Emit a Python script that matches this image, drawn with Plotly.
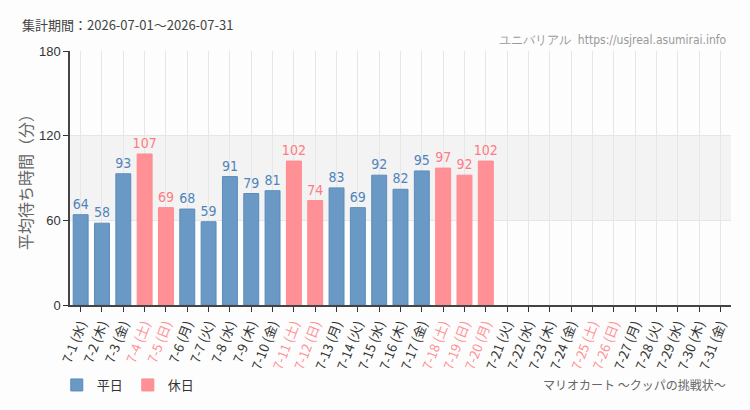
import plotly.graph_objects as go

dates = [f"7-{d}" for d in range(1, 32)]
weekdays = ["水","木","金","土","日","月","火","水","木","金","土","日","月","火","水","木","金","土","日","月","火","水","木","金","土","日","月","火","水","木","金"]
holiday = [False,False,False,True,True,False,False,False,False,False,True,True,False,False,False,False,False,True,True,True,
           False,False,False,False,True,True,False,False,False,False,False]
values = [64,58,93,107,69,68,59,91,79,81,102,74,83,69,92,82,95,97,92,102,
          None,None,None,None,None,None,None,None,None,None,None]

BLUE = "#6a99c6"
PINK = "#ff9196"
TXT = "#333333"
FONT = "Noto Sans CJK JP, Liberation Sans, sans-serif"
NARROW = "Liberation Sans Narrow, DejaVu Sans Condensed, Roboto, sans-serif"

idx = list(range(len(dates)))
wx = [i for i in idx if values[i] is not None and not holiday[i]]
hx = [i for i in idx if values[i] is not None and holiday[i]]

fig = go.Figure()
fig.add_trace(go.Bar(
    x=wx, y=[values[i] for i in wx], name="平日", width=0.7,
    marker=dict(color=BLUE, line=dict(color="#5b8cbc", width=1)),
    text=[str(values[i]) for i in wx], textposition="outside", cliponaxis=False,
    constraintext="none",
    textfont=dict(color="#4f84bb", size=14, family=NARROW),
))
fig.add_trace(go.Bar(
    x=hx, y=[values[i] for i in hx], name="休日", width=0.7,
    marker=dict(color=PINK, line=dict(color="#ff8a90", width=1)),
    text=[str(values[i]) for i in hx], textposition="outside", cliponaxis=False,
    constraintext="none",
    textfont=dict(color="#ff7a82", size=14, family=NARROW),
))

ticktext = []
for d, w, h in zip(dates, weekdays, holiday):
    lab = f"{d} ({w})"
    if h:
        lab = f"<span style='color:{PINK}'>{lab}</span>"
    ticktext.append(lab)

fig.add_shape(type="rect", xref="paper", yref="y", x0=0, x1=1, y0=60, y1=120,
              fillcolor="#f3f3f3", line=dict(width=0), layer="below")

fig.update_layout(
    width=750, height=410,
    margin=dict(l=70, r=19, t=51, b=105, autoexpand=False),
    paper_bgcolor="#fcfdfc", plot_bgcolor="#fcfdfc",
    barmode="overlay", bargap=0.3,
    font=dict(family=FONT, color=TXT, size=13),
    showlegend=True,
    legend=dict(orientation="h", x=-0.02, xanchor="left", y=1 - 385/410, yanchor="middle",
                yref="container", font=dict(size=13, color=TXT), bgcolor="rgba(0,0,0,0)",
                itemwidth=30, traceorder="normal"),
    xaxis=dict(
        tickmode="array", tickvals=idx, ticktext=ticktext, tickangle=-69,
        range=[-0.5, 30.5], showgrid=True, gridcolor="#e6e6e6", gridwidth=1,
        showline=True, linecolor="#444444", linewidth=1.5,
        ticks="outside", ticklen=5, tickcolor="#333333", automargin=False,
        tickfont=dict(size=13, color=TXT, family=FONT), zeroline=False,
    ),
    yaxis=dict(
        range=[0, 180], tickvals=[0, 60, 120, 180], showgrid=True,
        gridcolor="#e6e6e6", showline=True, linecolor="#444444", linewidth=1.5,
        ticks="outside", ticklen=5, tickcolor="#333333", automargin=False,
        tickfont=dict(size=13, color=TXT, family="Liberation Sans, Arial, sans-serif"),
        title=dict(text="平均待ち時間（分）", font=dict(size=16, color="#666666", family=FONT), standoff=2),
        zeroline=False,
    ),
)

fig.add_annotation(text="集計期間：2026-07-01〜2026-07-31", xref="paper", yref="paper",
                   x=-50/661, y=1 + 26/254, xanchor="left", yanchor="middle", showarrow=False,
                   font=dict(size=13, color="#444444", family=FONT))
fig.add_annotation(text="ユニバリアル  https://usjreal.asumirai.info", xref="paper", yref="paper",
                   x=1 - 2/661, y=1 + 11/254, xanchor="right", yanchor="middle", showarrow=False,
                   font=dict(size=12, color="#999999", family=NARROW))
fig.add_annotation(text="マリオカート 〜クッパの挑戦状〜", xref="paper", yref="paper",
                   x=1 - 3/661, y=-80/254, xanchor="right", yanchor="middle", showarrow=False,
                   font=dict(size=12, color="#666666", family=FONT))

fig.write_html("out.html")
